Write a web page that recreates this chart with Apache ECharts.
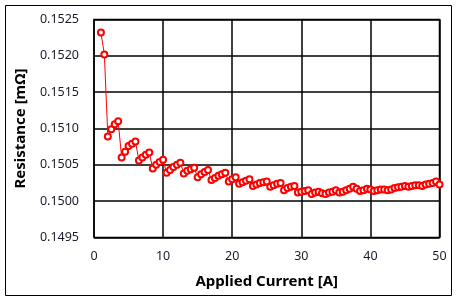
<!DOCTYPE html>
<html>
<head>
<meta charset="utf-8">
<script src="https://cdn.jsdelivr.net/npm/echarts@6/dist/echarts.min.js"></script>
<style>
html,body{margin:0;padding:0;background:#fff;}
#c{width:458px;height:302px;}
</style>
</head>
<body>
<div id="c"></div>
<script>
var currents = [1,1.5,2,2.5,3,3.5,4,4.5,5,5.5,6,6.5,7,7.5,8,8.5,9,9.5,10,10.5,11,11.5,12,12.5,13,13.5,14,14.5,15,15.5,16,16.5,17,17.5,18,18.5,19,19.5,20,20.5,21,21.5,22,22.5,23,23.5,24,24.5,25,25.5,26,26.5,27,27.5,28,28.5,29,29.5,30,30.5,31,31.5,32,32.5,33,33.5,34,34.5,35,35.5,36,36.5,37,37.5,38,38.5,39,39.5,40,40.5,41,41.5,42,42.5,43,43.5,44,44.5,45,45.5,46,46.5,47,47.5,48,48.5,49,49.5,50];
var resistance = [0.15232,0.15202,0.15089,0.15099,0.15106,0.15110,0.15060,0.15068,0.15076,0.15079,0.15082,0.15056,0.15060,0.15064,0.15067,0.15045,0.15050,0.15054,0.15057,0.15039,0.15043,0.15047,0.15050,0.15053,0.15038,0.15042,0.15044,0.15046,0.15033,0.15037,0.15040,0.15043,0.15029,0.15032,0.15035,0.15037,0.15039,0.15027,0.15030,0.15033,0.15024,0.15026,0.15028,0.15030,0.15021,0.15023,0.15025,0.15026,0.15027,0.15020,0.15022,0.15024,0.15025,0.15015,0.15018,0.15020,0.15021,0.15012,0.15013,0.15014,0.15015,0.15010,0.15012,0.15013,0.15011,0.15010,0.15012,0.15013,0.15015,0.15012,0.15013,0.15015,0.15017,0.15020,0.15017,0.15014,0.15015,0.15017,0.15016,0.15014,0.15015,0.15016,0.15016,0.15015,0.15016,0.15018,0.15019,0.15020,0.15021,0.15020,0.15021,0.15022,0.15022,0.15021,0.15023,0.15024,0.15025,0.15027,0.15023];
var xTicks = [0,10,20,30,40,50];
var yTicks = ['0.1495','0.1500','0.1505','0.1510','0.1515','0.1520','0.1525'];

var pts = currents.map(function(c,i){return [c,resistance[i]];});
var chart = echarts.init(document.getElementById('c'));
var font = '"Noto Sans", "DejaVu Sans", sans-serif';
chart.setOption({
  animation:false,
  backgroundColor:'#fff',
  graphic:[{type:'rect',shape:{x:5.5,y:5.5,width:446,height:290},style:{fill:null,stroke:'#000',lineWidth:1}}],
  grid:{left:94,right:18.5,top:19.5,bottom:64.5,show:true,borderColor:'#000',borderWidth:1.5},
  xAxis:{type:'value',min:xTicks[0],max:xTicks[xTicks.length-1],interval:10,
    name:'Applied Current [A]',nameLocation:'middle',nameGap:37,
    nameTextStyle:{fontFamily:font,fontSize:15,fontWeight:'bold',color:'#000'},
    axisLine:{show:false},axisTick:{show:false},
    splitLine:{show:true,lineStyle:{color:'#000',width:1.5}},
    axisLabel:{fontFamily:font,fontSize:12.5,color:'#1a1a2a',margin:12}},
  yAxis:{type:'value',min:Number(yTicks[0]),max:Number(yTicks[yTicks.length-1]),interval:0.0005,
    name:'Resistance [mΩ]',nameLocation:'middle',nameGap:66,
    nameTextStyle:{fontFamily:font,fontSize:15,fontWeight:'bold',color:'#000'},
    axisLine:{show:false},axisTick:{show:false},
    splitLine:{show:true,lineStyle:{color:'#000',width:1.5}},
    axisLabel:{fontFamily:font,fontSize:12.5,color:'#1a1a2a',margin:15,
      formatter:function(v){return v.toFixed(4);}}},
  series:[{type:'line',data:pts,symbol:'emptyCircle',symbolSize:6,
    lineStyle:{color:'#ff0000',width:1},
    itemStyle:{color:'#ff0000',borderColor:'#ff0000',borderWidth:1}}]
});
</script>
</body>
</html>
